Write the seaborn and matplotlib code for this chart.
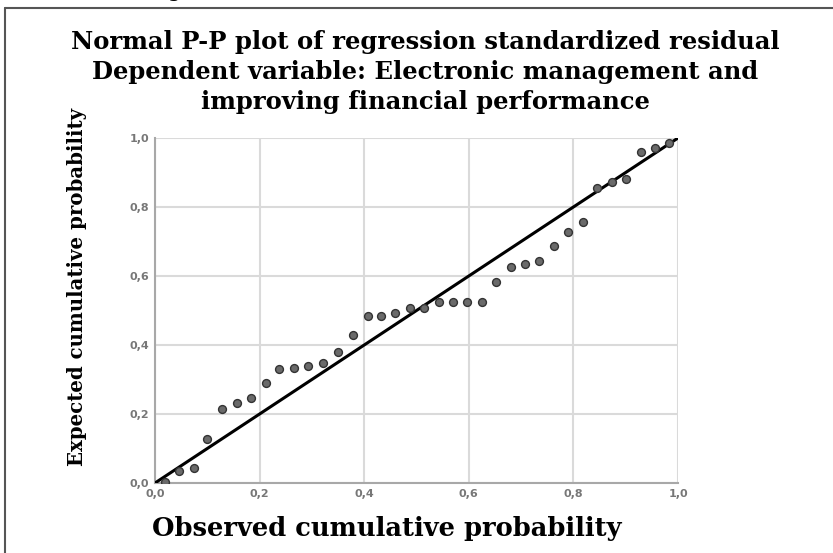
import numpy as np
import pandas as pd
import seaborn as sns
import matplotlib.pyplot as plt
from matplotlib.lines import Line2D
from matplotlib.ticker import FuncFormatter

# observed / expected cumulative probabilities
observed = [0.019, 0.046, 0.075, 0.100, 0.129, 0.156, 0.184, 0.212, 0.238, 0.266,
            0.293, 0.322, 0.349, 0.378, 0.408, 0.433, 0.459, 0.488, 0.515, 0.543,
            0.570, 0.597, 0.626, 0.652, 0.681, 0.707, 0.735, 0.762, 0.790, 0.818,
            0.845, 0.873, 0.901, 0.929, 0.956, 0.983]
expected = [0.003, 0.035, 0.043, 0.128, 0.215, 0.232, 0.247, 0.289, 0.330, 0.333,
            0.338, 0.347, 0.379, 0.430, 0.484, 0.484, 0.492, 0.508, 0.508, 0.526,
            0.526, 0.526, 0.526, 0.582, 0.627, 0.636, 0.644, 0.688, 0.728, 0.757,
            0.856, 0.873, 0.880, 0.959, 0.970, 0.985]
ref_line = [0.0, 1.0]
ticks = [0.0, 0.2, 0.4, 0.6, 0.8, 1.0]

title_lines = ["Normal P-P plot of regression standardized residual",
               "Dependent variable: Electronic management and",
               "improving financial performance"]

sns.set_style("white")
plt.rcParams['font.family'] = ['DejaVu Sans']

df = pd.DataFrame({"observed": observed, "expected": expected})

fig = plt.figure(figsize=(8.33, 5.53), dpi=100)
ax = fig.add_axes([155 / 833, 70 / 553, 523 / 833, 345 / 553])

ax.grid(True, color="#dadada", linewidth=1.5)
ax.set_axisbelow(True)

sns.lineplot(x=ref_line, y=ref_line, ax=ax, color="black", linewidth=2.2, zorder=3)
sns.scatterplot(data=df, x="observed", y="expected", ax=ax, s=32,
                color="#6a6a6a", edgecolor="#333333", linewidth=1.0, zorder=4)

ax.set_xlim(0, 1)
ax.set_ylim(0, 1)
ax.set_xticks(ticks)
ax.set_yticks(ticks)
fmt = FuncFormatter(lambda v, p: f"{v:.1f}".replace(".", ","))
ax.xaxis.set_major_formatter(fmt)
ax.yaxis.set_major_formatter(fmt)
ax.tick_params(length=0, labelsize=8, labelcolor="#777777", pad=4)
for lab in ax.get_xticklabels() + ax.get_yticklabels():
    lab.set_fontweight("bold")

for side in ["top", "right"]:
    ax.spines[side].set_visible(False)
for side in ["left", "bottom"]:
    ax.spines[side].set_color("#a8a8a8")
    ax.spines[side].set_linewidth(1.5)

ax.set_xlabel("Observed cumulative probability", family="DejaVu Serif",
              fontweight="bold", fontsize=18.5, color="black")
ax.xaxis.set_label_coords(0.444, -0.095)
ax.set_ylabel("Expected cumulative probability", family="DejaVu Serif",
              fontweight="bold", fontsize=14.2, color="black")
ax.yaxis.set_label_coords(-0.13, 0.568)

fig.text(425 / 833, 1 - 72 / 553, "\n".join(title_lines), ha="center", va="center",
         family="DejaVu Serif", fontweight="bold", fontsize=17.5, linespacing=1.33,
         color="black")

# clipped caption from the page above
fig.text(150 / 833, 1 + 3 / 553, "Figure (2)", ha="left", va="baseline",
         fontsize=16, color="black")

# frame lines of the surrounding box
fig.add_artist(Line2D([5 / 833, 1], [1 - 8 / 553, 1 - 8 / 553], color="#555555", linewidth=1.5))
fig.add_artist(Line2D([5 / 833, 5 / 833], [0, 1 - 8 / 553], color="#555555", linewidth=1.5))

fig.savefig("out.png", dpi=100, facecolor="white")
